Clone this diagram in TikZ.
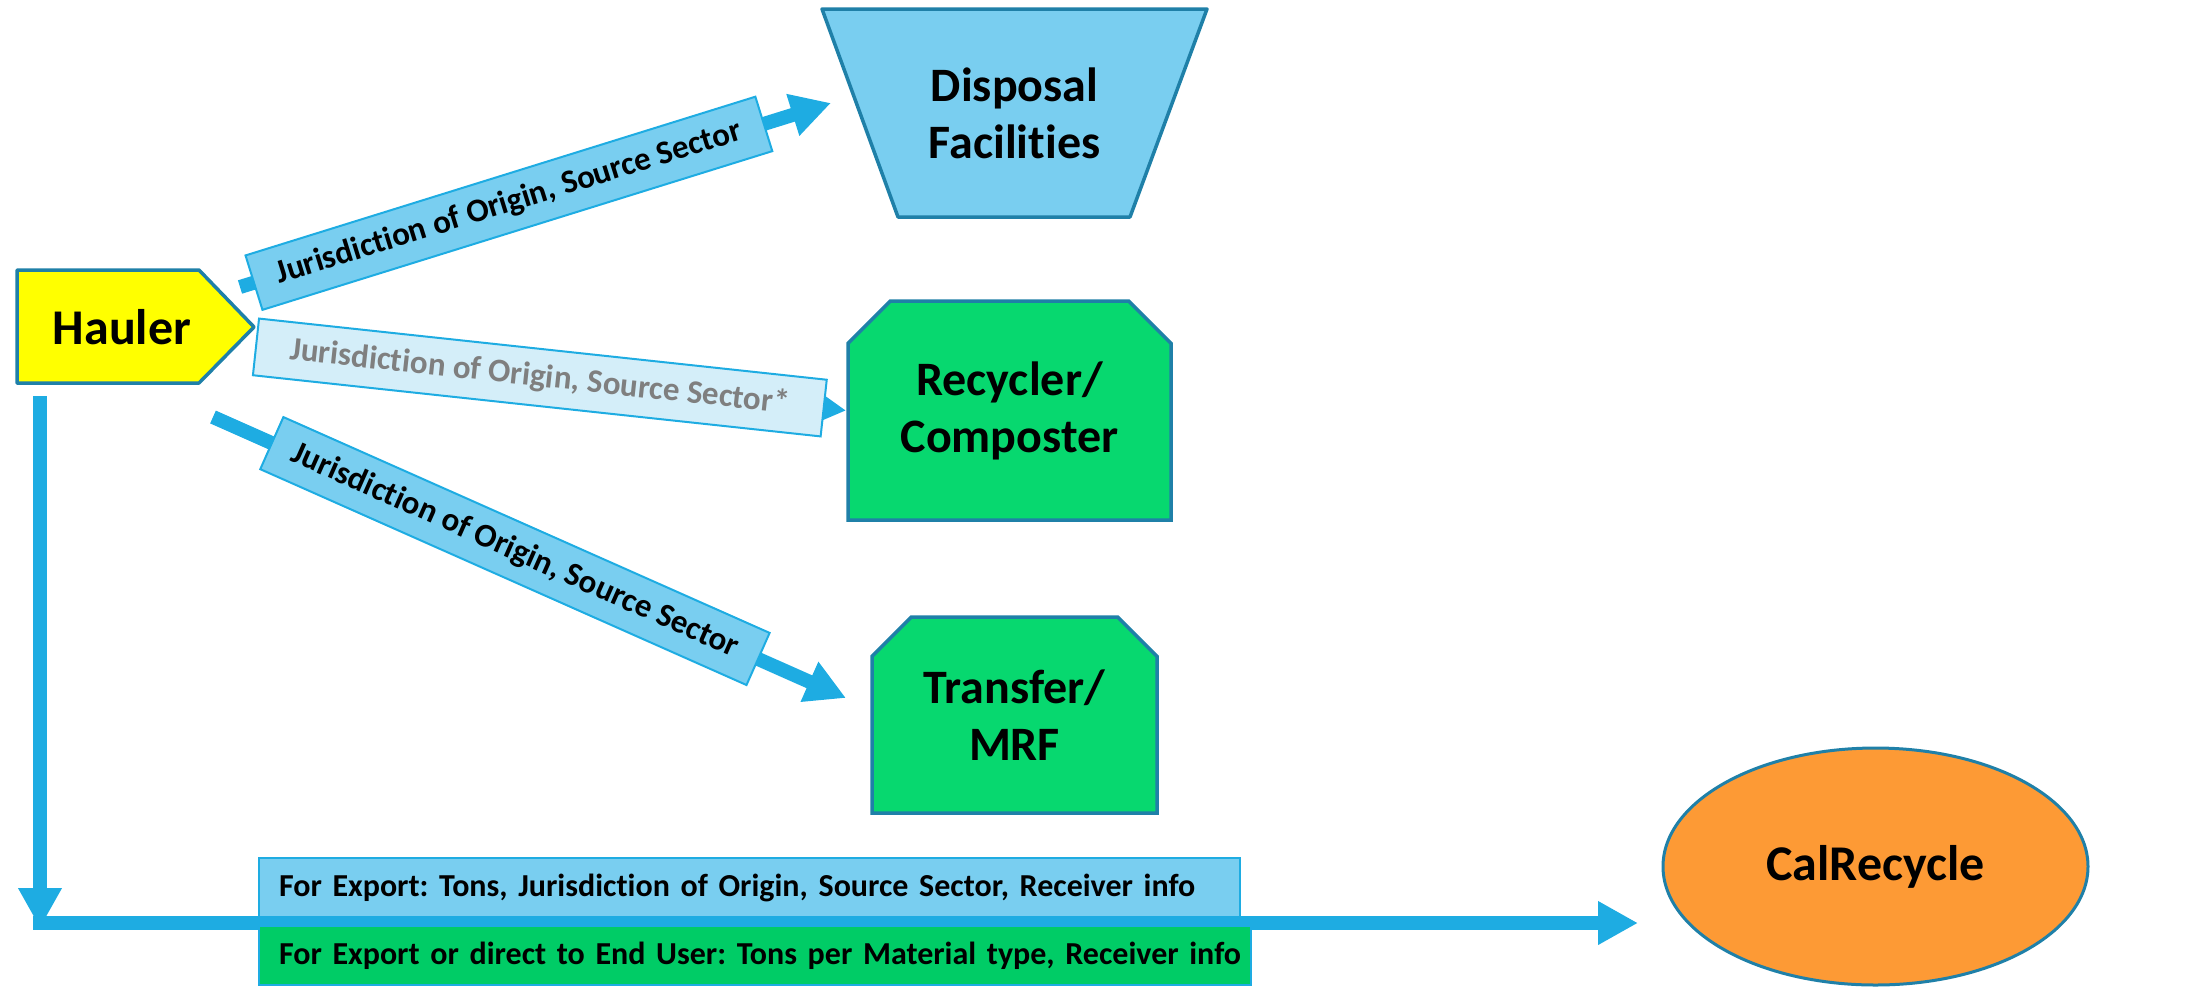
\documentclass[tikz,border=0pt]{standalone}
\usepackage{fontspec}
\setmainfont{Carlito}[Ligatures=NoCommon]
\usepackage{xcolor}
\usetikzlibrary{arrows.meta, calc, positioning, shapes.geometric, shapes.misc}
\frenchspacing

\definecolor{flowblue}{HTML}{1EACE2}
\definecolor{boxblue}{HTML}{79CEF0}
\definecolor{paleblue}{HTML}{D4EEF9}
\definecolor{edgeblue}{HTML}{1F80A8}
\definecolor{taggray}{HTML}{7F7F7F}
\definecolor{haulyellow}{HTML}{FFFF00}
\definecolor{facgreen}{HTML}{07D86F}
\definecolor{infogreen}{HTML}{00CC66}
\definecolor{calorange}{HTML}{FD9A35}

\begin{document}
\begin{tikzpicture}[
    x=0.5pt, y=-0.5pt,
    facility/.style={draw=edgeblue, line width=1.75pt, align=center, inner sep=0pt,
      font=\bfseries\fontsize{24pt}{28.5pt}\selectfont},
    title/.style={align=center, font=\bfseries\fontsize{24pt}{28.5pt}\selectfont},
    outline/.style={draw=edgeblue, line width=1.75pt, line join=round},
    flow/.style={draw=flowblue, line width=7pt, -{Triangle[length=20pt, width=20.5pt]}},
    tag/.style={draw=flowblue, line width=1pt, fill=boxblue, sloped, inner sep=0pt,
      minimum height=28.5pt, font=\bfseries\fontsize{16.5pt}{18pt}\selectfont},
    infobox/.style={draw=flowblue, line width=1pt, inner xsep=10pt, inner ysep=0pt,
      minimum height=29.5pt, align=left, font=\bfseries\fontsize{16pt}{18pt}\selectfont}
  ]
  \useasboundingbox (0,0) rectangle (2202,987);

  \coordinate (haulerpos) at (122,327);
  \coordinate (disposalpos) at (1014.5,113);
  \filldraw[outline, fill=haulyellow] ($(haulerpos)+(-105,-57)$) -- ($(haulerpos)+(77,-57)$)
    -- ($(haulerpos)+(132,0)$) -- ($(haulerpos)+(77,56)$) -- ($(haulerpos)+(-105,56)$) -- cycle;
  \filldraw[outline, fill=boxblue] ($(disposalpos)+(-192.5,-104)$) -- ($(disposalpos)+(192.5,-104)$)
    -- ($(disposalpos)+(115.5,104)$) -- ($(disposalpos)+(-116.5,104)$) -- cycle;
  \node[title, font=\bfseries\fontsize{25pt}{30pt}\selectfont] (hauler) at (haulerpos) {Hauler};
  \node[title] (disposal) at (disposalpos) {Disposal\\Facilities};

  \node[facility, chamfered rectangle, chamfered rectangle corners={north west, north east},
      chamfered rectangle xsep=18pt, fill=facgreen, minimum width=161.5pt,
      minimum height=109.5pt] (recycler) at (1009.5,410.5) {Recycler/\\Composter};
  \node[facility, chamfered rectangle, chamfered rectangle corners={north west, north east},
      chamfered rectangle xsep=16.5pt, fill=facgreen, minimum width=142.5pt,
      minimum height=98pt] (transfer) at (1014.5,715) {Transfer/\\MRF};
  \node[facility, ellipse, fill=calorange, line width=1.5pt, minimum width=212.5pt,
      minimum height=118.5pt, font=\bfseries\fontsize{25pt}{30pt}\selectfont]
      (calrecycle) at (1875.5,866.5) {CalRecycle};

  \coordinate (tail1) at (240,287);
  \coordinate (tip1) at (831,103);
  \coordinate (tail2) at (257,347);
  \coordinate (tail3) at (213,417);
  \coordinate (tip3) at (846,698);
  \coordinate (down) at (40,396);
  \coordinate (corner) at (40,928);
  \coordinate (turn) at (33,923);
  \coordinate (tip4) at (1638,923);

  \draw[flow] (tail1) -- node[tag, pos=0.455, minimum width=267pt]
    {Jurisdiction of Origin, Source Sector} (tip1);
  \draw[flow] (tail2) -- node[tag, pos=0.48, fill=paleblue, text=taggray, minimum width=285.5pt]
    {Jurisdiction of Origin, Source Sector*} (recycler.west);
  \draw[flow] (tail3) -- node[tag, pos=0.477, minimum width=266pt]
    {Jurisdiction of Origin, Source Sector} (tip3);
  \draw[flow] (down) -- (corner);
  \draw[flow] (turn) -- (tip4);

  \node[infobox, fill=boxblue, text width=470.5pt, anchor=north west] (exportinfo) at (258,857)
    {\mbox{For Export: Tons, Jurisdiction of Origin, Source Sector, Receiver info}};
  \node[infobox, fill=infogreen, text width=476pt, below right=3.5pt and 0pt of exportinfo.south west]
    (enduserinfo) {\mbox{For Export or direct to End User: Tons per Material type, Receiver info}};
\end{tikzpicture}
\end{document}
